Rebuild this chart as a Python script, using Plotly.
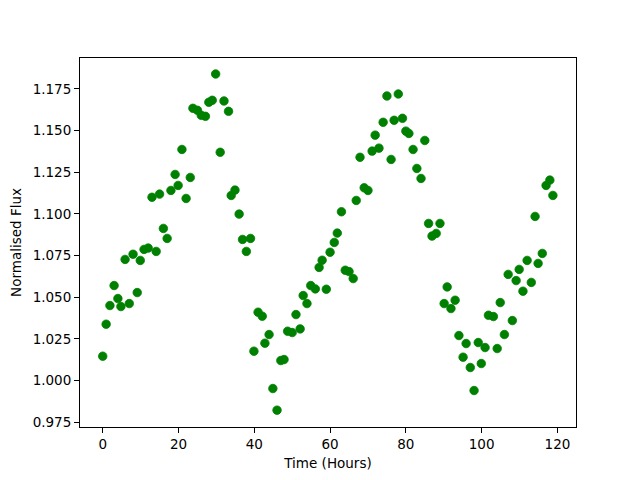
import plotly.graph_objects as go

time_hours = [0.0, 0.9, 1.9, 3.0, 4.0, 4.8, 5.9, 7.0, 8.0, 9.1,
              9.9, 10.9, 12.0, 13.0, 14.1, 15.0, 16.0, 17.0, 18.0, 19.1,
              19.9, 20.9, 22.0, 23.1, 23.8, 25.0, 26.0, 27.1, 28.0, 28.9,
              29.8, 31.0, 32.0, 33.2, 33.9, 34.9, 36.0, 36.9, 37.9, 39.0,
              39.9, 41.0, 42.1, 42.8, 43.9, 44.9, 46.0, 47.0, 47.85, 48.8,
              50.0, 51.0, 52.1, 52.9, 53.9, 54.9, 56.1, 57.1, 57.9, 59.0,
              60.0, 61.1, 61.9, 63.0, 64.0, 65.0, 66.1, 66.9, 67.9, 69.0,
              70.0, 71.1, 71.9, 72.9, 74.0, 75.0, 76.1, 76.9, 78.0, 79.1,
              80.0, 80.8, 81.9, 82.9, 84.0, 85.0, 86.0, 86.9, 88.0, 89.0,
              90.1, 90.9, 91.9, 93.0, 94.0, 95.1, 95.9, 97.0, 98.0, 99.1,
              99.9, 100.9, 101.8, 103.1, 104.1, 104.9, 106.0, 107.0, 108.1, 109.1,
              109.9, 110.9, 112.0, 113.1, 114.1, 114.9, 116.0, 117.0, 118.0, 118.8]

normalised_flux = [1.0146, 1.0338, 1.0450, 1.0570, 1.0492, 1.0444, 1.0727, 1.0462, 1.0758, 1.0528,
                   1.0721, 1.0787, 1.0795, 1.1100, 1.0775, 1.1119, 1.0913, 1.0853, 1.1141, 1.1237,
                   1.1171, 1.1387, 1.1093, 1.1219, 1.1634, 1.1622, 1.1592, 1.1586, 1.1670, 1.1682,
                   1.1840, 1.1370, 1.1678, 1.1616, 1.1111, 1.1143, 1.0999, 1.0847, 1.0775, 1.0853,
                   1.0176, 1.0410, 1.0386, 1.0224, 1.0276, 0.9952, 0.9822, 1.0120, 1.0126, 1.0296,
                   1.0288, 1.0396, 1.0310, 1.0510, 1.0462, 1.0570, 1.0550, 1.0679, 1.0722, 1.0548,
                   1.0770, 1.0829, 1.0885, 1.1013, 1.0662, 1.0654, 1.0612, 1.1081, 1.1340, 1.1157,
                   1.1141, 1.1377, 1.1473, 1.1395, 1.1550, 1.1708, 1.1327, 1.1562, 1.1720, 1.1574,
                   1.1497, 1.1483, 1.1387, 1.1273, 1.1213, 1.1441, 1.0943, 1.0867, 1.0883, 1.0943,
                   1.0462, 1.0562, 1.0432, 1.0482, 1.0270, 1.0140, 1.0222, 1.0078, 0.9940, 1.0228,
                   1.0102, 1.0198, 1.0392, 1.0384, 1.0192, 1.0468, 1.0276, 1.0637, 1.0360, 1.0600,
                   1.0667, 1.0536, 1.0721, 1.0589, 1.0985, 1.0703, 1.0763, 1.1171, 1.1203, 1.1111]

x_ticks = [0, 20, 40, 60, 80, 100, 120]
y_ticks = [0.975, 1.000, 1.025, 1.050, 1.075, 1.100, 1.125, 1.150, 1.175]

fig = go.Figure()
fig.add_trace(go.Scatter(
    x=time_hours, y=normalised_flux, mode="markers",
    marker=dict(color="#008000", size=8.5, line=dict(width=0.8, color="#008000")),
    showlegend=False,
))

axis_common = dict(
    showline=True, linecolor="black", linewidth=1, mirror=True,
    ticks="outside", ticklen=5, tickwidth=1, tickcolor="black",
    showgrid=False, zeroline=False, automargin=False,
    tickfont=dict(family="DejaVu Sans", size=13.5, color="black"),
)

# The page body adds an 8px offset, so margins are shifted to compensate.
fig.update_layout(
    width=640, height=480,
    margin=dict(l=72, r=72, t=50, b=61),
    paper_bgcolor="white", plot_bgcolor="white",
    font=dict(family="DejaVu Sans", size=13.5, color="black"),
    xaxis=dict(range=[-6.0, 124.9], tickvals=x_ticks,
               title=dict(text="Time (Hours)", standoff=7,
                          font=dict(family="DejaVu Sans", size=13.5)),
               **axis_common),
    yaxis=dict(range=[0.9721, 1.1936], tickvals=y_ticks, tickformat=".3f",
               title=dict(text="Normalised Flux", standoff=8,
                          font=dict(family="DejaVu Sans", size=13.5)),
               **axis_common),
)

fig.write_html("out.html")
